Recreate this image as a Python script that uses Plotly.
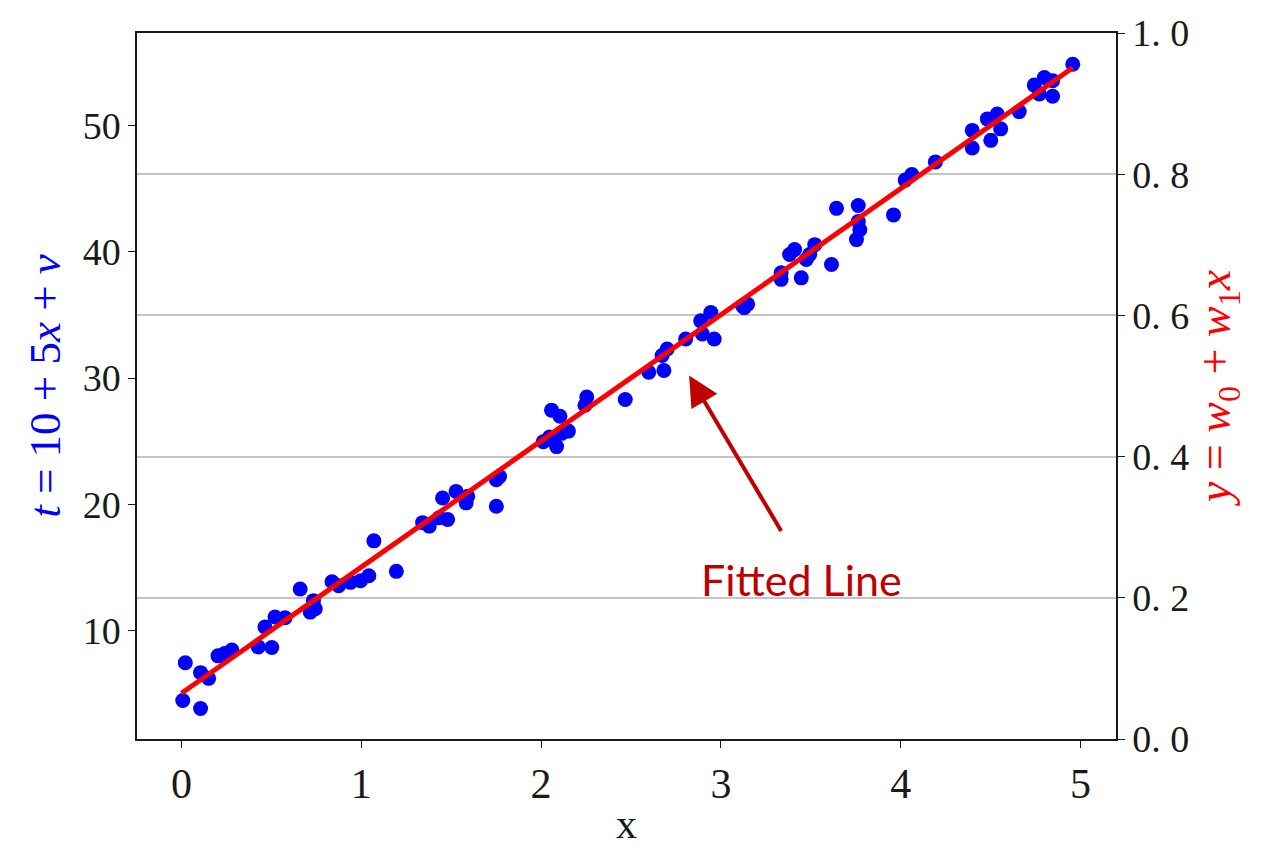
import plotly.graph_objects as go

# Scatter data: t = 10 + 5x + v
x_pts = [0.007, 0.021, 0.106, 0.151, 0.106, 0.203, 0.240, 0.280, 0.427, 0.502,
         0.464, 0.520, 0.576, 0.660, 0.716, 0.744, 0.734, 0.837, 0.874, 0.940,
         0.996, 1.042, 1.195, 1.070, 1.341, 1.378, 1.433, 1.480, 1.452, 1.527,
         1.592, 1.583, 1.751, 1.751, 1.769, 2.012, 2.058, 2.105, 2.152, 2.086,
         2.114, 2.047, 2.254, 2.244, 2.468, 2.599, 2.683, 2.701, 2.673, 2.804,
         2.888, 2.897, 2.944, 2.963, 3.121, 3.149, 3.130, 3.335, 3.335, 3.382,
         3.410, 3.447, 3.475, 3.522, 3.494, 3.615, 3.643, 3.764, 3.764, 3.773,
         3.754, 3.960, 4.025, 4.062, 4.193, 4.398, 4.398, 4.482, 4.537, 4.556,
         4.501, 4.659, 4.743, 4.799, 4.845, 4.845, 4.771, 4.957]
t_pts = [4.44, 7.43, 6.65, 6.20, 3.81, 7.98, 8.17, 8.44, 8.69, 8.64,
         10.27, 11.06, 11.00, 13.28, 11.45, 11.71, 12.36, 13.86, 13.54, 13.81,
         13.94, 14.33, 14.68, 17.10, 18.54, 18.27, 18.93, 18.80, 20.50, 21.02,
         20.63, 20.11, 19.84, 21.94, 22.20, 24.96, 27.46, 26.98, 25.80, 24.57,
         25.62, 25.33, 28.50, 27.85, 28.30, 30.47, 30.61, 32.31, 31.79, 33.10,
         34.54, 33.50, 35.20, 33.10, 35.72, 35.86, 35.59, 38.35, 37.83, 39.80,
         40.19, 37.95, 39.40, 40.58, 39.80, 39.01, 43.46, 43.68, 42.42, 41.76,
         40.98, 42.94, 45.70, 46.14, 47.14, 49.64, 48.24, 50.55, 50.94, 49.76,
         48.85, 51.13, 53.23, 53.83, 53.57, 52.34, 52.52, 54.88]

# Fitted line endpoints
line_x = [0.0, 4.957]
line_y = [5.02, 54.6]

left_ticks = [10, 20, 30, 40, 50]
right_ticks = [0.0, 0.2, 0.4, 0.6, 0.8, 1.0]
right_labels = ["0. 0", "0. 2", "0. 4", "0. 6", "0. 8", "1. 0"]
x_ticks = [0, 1, 2, 3, 4, 5]

serif = "Liberation Serif"

fig = go.Figure()
# invisible trace to activate right axis
fig.add_trace(go.Scatter(x=[None], y=[None], yaxis="y2", showlegend=False, hoverinfo="skip"))
fig.add_trace(go.Scatter(x=x_pts, y=t_pts, mode="markers",
                         marker=dict(color="#0000ff", size=15, line=dict(width=0)),
                         showlegend=False))
fig.add_trace(go.Scatter(x=line_x, y=line_y, mode="lines",
                         line=dict(color="#ff0000", width=5), showlegend=False))

fig.add_annotation(x=2.823, y=30.21, xref="x", yref="y", text="",
                   showarrow=True, ax=93, ay=157, axref="pixel", ayref="pixel",
                   arrowhead=2, arrowsize=1.5, arrowwidth=4, arrowcolor="#c00000")
fig.add_annotation(x=3.45, y=14.0, xref="x", yref="y", text="Fitted Line",
                   showarrow=False, font=dict(family="Lato", size=43, color="#c00000"))

fig.update_layout(
    width=1261, height=851,
    margin=dict(l=137, r=145, t=30, b=109),
    plot_bgcolor="white", paper_bgcolor="white",
    xaxis=dict(range=[-0.2475, 5.1975], tickvals=x_ticks, showgrid=False, zeroline=False,
               showline=True, mirror=True, linecolor="#1a1a1a", linewidth=1.5,
               ticks="outside", ticklen=7, tickcolor="#1a1a1a",
               tickfont=dict(family=serif, size=42, color="#1a1a1a"),
               title=dict(text="x", font=dict(family=serif, size=42, color="#1a1a1a"), standoff=2)),
    yaxis=dict(range=[1.39, 57.36], tickvals=left_ticks, showgrid=False, zeroline=False,
               showline=True, linecolor="#1a1a1a", linewidth=1.5,
               ticks="outside", ticklen=7, tickcolor="#1a1a1a",
               tickfont=dict(family=serif, size=38, color="#1a1a1a"),
               title=dict(text="<i>t</i> = 10 + 5<i>x</i> + <i>v</i>",
                          font=dict(family=serif, size=45, color="#0000ff"), standoff=8)),
    yaxis2=dict(range=[0, 1], tickvals=right_ticks, ticktext=right_labels, overlaying="y", side="right",
                showgrid=True, gridcolor="#c4c4c4", gridwidth=1.5, zeroline=False,
                showline=True, linecolor="#1a1a1a", linewidth=1.5,
                ticks="outside", ticklen=7, tickcolor="#1a1a1a",
                tickfont=dict(family=serif, size=38, color="#1a1a1a"),
                title=dict(text="<i>y</i> = <i>w</i><sub>0</sub> + <i>w</i><sub>1</sub><i>x</i>",
                           font=dict(family=serif, size=46, color="#ff0000"), standoff=6)),
)

fig.write_html("out.html")
